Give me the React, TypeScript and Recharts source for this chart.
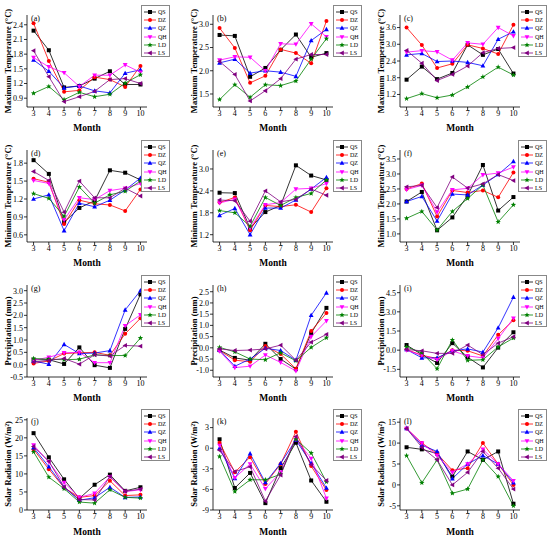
import { LineChart, Line, XAxis, YAxis } from 'recharts';

const months = [3, 4, 5, 6, 7, 8, 9, 10];
const seriesNames = ['QS', 'DZ', 'QZ', 'QH', 'LD', 'LS'];
const seriesColors = ['#000000', '#ff0000', '#0000ff', '#ff00ff', '#008000', '#800080'];
const seriesShapes = ['square', 'circle', 'up', 'down', 'star', 'left'];

// (a)-(c) maximum temperature change
const maxTempA = {
  QS: [2.28, 1.88, 1.12, 1.15, 1.3, 1.45, 1.18, 1.18],
  DZ: [2.43, 1.66, 1.03, 1.06, 1.33, 1.28, 1.13, 1.56],
  QZ: [1.68, 1.45, 1.11, 1.15, 1.05, 1.01, 1.41, 1.48],
  QH: [1.73, 1.54, 1.42, 1.14, 1.37, 1.37, 1.58, 1.43],
  LD: [1.0, 1.14, 0.87, 1.02, 0.93, 0.98, 1.21, 1.38],
  LS: [1.87, 1.34, 0.83, 0.93, 1.04, 1.28, 1.3, 1.2],
};
const maxTempB = {
  QS: [2.77, 2.75, 1.87, 2.06, 2.45, 2.78, 2.29, 2.38],
  DZ: [2.92, 2.49, 1.74, 1.89, 2.46, 2.38, 2.16, 3.07],
  QZ: [2.17, 2.25, 1.95, 2.0, 1.97, 1.88, 2.65, 2.89],
  QH: [2.23, 2.3, 2.29, 2.0, 2.58, 2.57, 3.01, 2.73],
  LD: [1.38, 1.7, 1.43, 1.7, 1.68, 1.78, 2.25, 2.69],
  LS: [2.2, 1.92, 1.35, 1.57, 1.83, 2.25, 2.35, 2.35],
};
const maxTempC = {
  QS: [1.73, 2.2, 1.75, 1.97, 2.98, 2.62, 2.83, 1.95],
  DZ: [3.6, 2.97, 2.15, 2.3, 2.98, 2.85, 2.65, 3.7],
  QZ: [2.62, 2.67, 2.38, 2.4, 2.35, 2.23, 3.18, 3.45],
  QH: [2.72, 2.77, 2.73, 2.43, 3.05, 3.0, 3.6, 3.3],
  LD: [1.05, 1.23, 1.08, 1.18, 1.47, 1.83, 2.18, 1.9],
  LS: [2.78, 2.32, 1.7, 1.92, 2.22, 2.7, 2.85, 2.88],
};

// (d)-(f) minimum temperature change
const minTempD = {
  QS: [1.85, 1.62, 0.81, 1.05, 1.17, 1.68, 1.64, 1.52],
  DZ: [1.54, 1.48, 0.78, 1.18, 1.12, 1.1, 1.0, 1.36],
  QZ: [1.2, 1.27, 0.67, 1.13, 1.07, 1.18, 1.35, 1.55],
  QH: [1.51, 1.46, 0.85, 1.22, 1.19, 1.34, 1.38, 1.46],
  LD: [1.29, 1.21, 0.91, 1.4, 1.13, 1.27, 1.33, 1.5],
  LS: [1.66, 1.51, 0.98, 1.5, 1.22, 1.22, 1.38, 1.25],
};
const minTempE = {
  QS: [2.35, 2.34, 1.38, 1.82, 2.0, 3.1, 2.82, 2.7],
  DZ: [2.08, 2.22, 1.32, 2.0, 1.97, 2.02, 1.82, 2.47],
  QZ: [1.73, 1.92, 1.2, 1.93, 1.93, 2.15, 2.45, 2.77],
  QH: [2.07, 2.17, 1.38, 2.02, 2.08, 2.45, 2.47, 2.6],
  LD: [1.86, 1.8, 1.43, 2.22, 2.0, 2.22, 2.33, 2.7],
  LS: [2.15, 2.13, 1.57, 2.4, 2.1, 2.17, 2.45, 2.28],
};
const minTempF = {
  QS: [2.08, 2.4, 1.12, 1.55, 2.28, 3.3, 1.78, 2.23],
  DZ: [2.5, 2.68, 1.58, 2.45, 2.38, 2.45, 2.22, 3.05],
  QZ: [2.08, 2.25, 1.43, 2.33, 2.3, 2.63, 2.98, 3.42],
  QH: [2.48, 2.62, 1.73, 2.47, 2.52, 2.97, 3.03, 3.23],
  LD: [1.52, 1.75, 1.13, 1.75, 2.18, 2.63, 1.4, 1.97],
  LS: [2.57, 2.62, 1.88, 2.9, 2.53, 2.67, 2.98, 2.78],
};

// (g)-(i) precipitation change
const precipG = {
  QS: [0.2, 0.2, 0.03, 0.7, -0.02, -0.13, 1.45, 2.85],
  DZ: [0.05, 0.15, 0.45, 0.48, 0.5, 0.38, 1.25, 1.88],
  QZ: [0.15, 0.02, 0.82, 0.45, 0.47, 0.57, 2.22, 3.0],
  QH: [0.18, 0.3, 0.48, 0.5, 0.08, 0.08, 1.58, 2.02],
  LD: [0.25, 0.22, 0.2, 0.22, 0.4, 0.37, 0.37, 1.08],
  LS: [0.1, 0.18, 0.25, 0.02, 0.4, 0.35, 0.78, 0.75],
};
const precipH = {
  QS: [-0.1, -0.45, -0.55, 0.18, -0.5, -0.95, 0.65, 1.78],
  DZ: [-0.12, -0.55, -0.62, 0.08, -0.28, -0.93, 0.75, 1.55],
  QZ: [-0.1, -0.82, -0.5, -0.02, -0.12, -0.55, 1.45, 2.45],
  QH: [-0.15, -0.88, -0.82, -0.32, -0.65, -1.03, 0.5, 1.2],
  LD: [0.02, -0.18, -0.5, -0.53, -0.22, -0.58, 0.02, 0.45],
  LS: [-0.05, -0.12, -0.1, -0.05, 0.12, -0.55, 0.25, 0.6],
};
const precipI = {
  QS: [0.4, -0.35, -1.0, 0.55, -0.55, -1.35, 0.2, 1.4],
  DZ: [0.05, -0.4, -0.65, 0.0, -0.05, -0.45, 1.2, 2.35],
  QZ: [0.05, -0.6, -0.6, -0.05, 0.1, -0.15, 1.75, 4.15],
  QH: [0.0, -0.4, -0.75, -0.05, -0.45, -0.6, 0.9, 2.5],
  LD: [0.25, -0.2, -1.45, 0.8, -0.8, -0.75, 0.25, 0.95],
  LS: [0.05, -0.05, -0.25, -0.25, 0.4, -0.35, 0.55, 1.05],
};

// (j)-(l) solar radiation change
const solarJ = {
  QS: [21.3, 14.6, 8.5, 3.2, 7.0, 9.8, 5.3, 6.3],
  DZ: [16.8, 11.3, 6.2, 3.5, 4.0, 8.1, 4.0, 4.2],
  QZ: [17.3, 12.0, 6.3, 2.7, 3.4, 6.3, 3.5, 3.6],
  QH: [18.0, 13.3, 7.6, 3.5, 4.6, 9.2, 5.1, 5.6],
  LD: [16.1, 9.1, 5.9, 2.2, 1.9, 5.6, 3.5, 3.3],
  LS: [17.6, 13.5, 6.4, 2.9, 2.8, 9.3, 5.2, 5.8],
};
const solarK = {
  QS: [1.3, -5.8, -3.6, -8.0, -2.9, 0.8, -4.7, -7.8],
  DZ: [0.8, -3.5, -1.3, -5.2, -2.3, 2.4, -2.6, -6.1],
  QZ: [0.0, -4.4, -0.8, -5.0, -2.2, 1.2, -2.2, -5.8],
  QH: [0.4, -4.3, -2.3, -5.9, -3.5, 1.3, -1.5, -7.3],
  LD: [-1.2, -6.3, -4.6, -4.6, -3.8, 1.3, -0.7, -4.9],
  LS: [-0.3, -3.4, -2.7, -7.7, -3.9, 1.7, -2.4, -4.7],
};
const solarL = {
  QS: [9.0, 8.5, 7.5, 2.0, 8.0, 6.0, 8.0, -4.5],
  DZ: [13.5, 10.0, 7.5, 3.5, 4.0, 10.0, 5.0, 0.0],
  QZ: [13.5, 9.5, 8.0, 1.5, 5.0, 7.0, 5.0, 0.5],
  QH: [13.5, 10.0, 7.0, 3.0, 5.0, 8.5, 5.0, 1.0],
  LD: [7.0, 0.5, 6.0, -2.0, -1.0, 6.0, 2.0, -5.0],
  LS: [13.5, 9.0, 6.0, 0.0, 3.0, 8.0, 4.0, -1.0],
};

const ticksA = [0.9, 1.2, 1.5, 1.8, 2.1, 2.4];
const ticksB = [1.5, 2.0, 2.5, 3.0];
const ticksC = [1.2, 1.8, 2.4, 3.0, 3.6];
const ticksD = [0.6, 0.9, 1.2, 1.5, 1.8];
const ticksE = [1.2, 1.8, 2.4, 3.0];
const ticksF = [1.0, 1.5, 2.0, 2.5, 3.0, 3.5];
const ticksG = [-0.5, 0.0, 0.5, 1.0, 1.5, 2.0, 2.5, 3.0];
const ticksH = [-1.0, -0.5, 0.0, 0.5, 1.0, 1.5, 2.0, 2.5];
const ticksI = [-1.5, 0.0, 1.5, 3.0, 4.5];
const ticksJ = [0, 5, 10, 15, 20, 25];
const ticksK = [-9, -6, -3, 0, 3];
const ticksL = [-5, 0, 5, 10, 15];

const rowLabels = [
  'Maximum Temperature (°C)',
  'Minimum Temperature (°C)',
  'Precipitation (mm)',
  'Solar Radiation (W/m²)',
];

const panels = [
  { letter: 'a', values: maxTempA, domain: [0.72, 2.6], ticks: ticksA, dec: 1 },
  { letter: 'b', values: maxTempB, domain: [1.22, 3.2], ticks: ticksB, dec: 1 },
  { letter: 'c', values: maxTempC, domain: [0.75, 4.05], ticks: ticksC, dec: 1 },
  { letter: 'd', values: minTempD, domain: [0.48, 2.02], ticks: ticksD, dec: 1 },
  { letter: 'e', values: minTempE, domain: [1.0, 3.52], ticks: ticksE, dec: 1 },
  { letter: 'f', values: minTempF, domain: [0.73, 3.8], ticks: ticksF, dec: 1 },
  { letter: 'g', values: precipG, domain: [-0.5, 3.23], ticks: ticksG, dec: 1 },
  { letter: 'h', values: precipH, domain: [-1.3, 2.8], ticks: ticksH, dec: 1 },
  { letter: 'i', values: precipI, domain: [-2.1, 5.1], ticks: ticksI, dec: 1 },
  { letter: 'j', values: solarJ, domain: [0, 25.5], ticks: ticksJ, dec: 0 },
  { letter: 'k', values: solarK, domain: [-9, 4.4], ticks: ticksK, dec: 0 },
  { letter: 'l', values: solarL, domain: [-6, 16], ticks: ticksL, dec: 0 },
];

const FONT = '"Liberation Serif", "Times New Roman", serif';
const colLeft = [0, 183, 366];
const rowTop = [0, 135, 270, 404];
const plotLeft = [27, 30, 34];
const legendLeft = [141, 150, 152];
const PANEL_W = 183;
const PANEL_H = 134;
const PLOT_W = 120;

function Marker({ shape, x, y, color }: { shape: string; x: number; y: number; color: string }) {
  const r = 2;
  if (shape === 'square') return <rect x={x - r} y={y - r} width={r * 2} height={r * 2} fill={color} />;
  if (shape === 'circle') return <circle cx={x} cy={y} r={r} fill={color} />;
  if (shape === 'up')
    return <polygon points={`${x},${y - r * 1.3} ${x + r * 1.2},${y + r * 0.9} ${x - r * 1.2},${y + r * 0.9}`} fill={color} />;
  if (shape === 'down')
    return <polygon points={`${x},${y + r * 1.3} ${x + r * 1.2},${y - r * 0.9} ${x - r * 1.2},${y - r * 0.9}`} fill={color} />;
  if (shape === 'left')
    return <polygon points={`${x - r * 1.3},${y} ${x + r * 0.9},${y - r * 1.2} ${x + r * 0.9},${y + r * 1.2}`} fill={color} />;
  // star
  const pts: string[] = [];
  for (let i = 0; i < 10; i++) {
    const a = (Math.PI / 5) * i - Math.PI / 2;
    const rr = i % 2 === 0 ? r * 1.4 : r * 0.6;
    pts.push(`${x + rr * Math.cos(a)},${y + rr * Math.sin(a)}`);
  }
  return <polygon points={pts.join(' ')} fill={color} />;
}

function LegendBox({ left }: { left: number }) {
  return (
    <div
      style={{
        position: 'absolute', left, top: 5, width: 29, height: 52,
        border: '0.8px solid #888', background: '#fff', boxSizing: 'border-box',
        paddingTop: 1.5,
      }}
    >
      {seriesNames.map((s, i) => (
        <div key={s} style={{ display: 'flex', alignItems: 'center', height: 8.3 }}>
          <svg width={16} height={8} style={{ flex: 'none' }}>
            <line x1={2} y1={4} x2={14} y2={4} stroke={seriesColors[i]} strokeWidth={0.8} />
            <Marker shape={seriesShapes[i]} x={8} y={4} color={seriesColors[i]} />
          </svg>
          <span style={{ fontFamily: FONT, fontSize: 6, lineHeight: '8px', color: '#000' }}>{s}</span>
        </div>
      ))}
    </div>
  );
}

function Panel({ idx }: { idx: number }) {
  const p = panels[idx];
  const row = Math.floor(idx / 3);
  const col = idx % 3;
  const left = plotLeft[col];
  const top = row === 3 ? 14 : 15;
  const data = months.map((m, i) => {
    const d: Record<string, number> = { month: m };
    seriesNames.forEach((s) => { d[s] = (p.values as Record<string, number[]>)[s][i]; });
    return d;
  });
  const axisLine = { stroke: '#000', strokeWidth: 0.8 };
  const tickStyle = { fontSize: 8, fontFamily: FONT, fill: '#000' };
  return (
    <div style={{ position: 'absolute', left: colLeft[col], top: rowTop[row], width: PANEL_W, height: PANEL_H }}>
      <LineChart
        width={PANEL_W}
        height={PANEL_H}
        data={data}
        margin={{ top, right: PANEL_W - left - PLOT_W, bottom: 0, left: 0 }}
        style={{ fontFamily: FONT }}
      >
        <XAxis
          dataKey="month"
          type="number"
          domain={[2.57, 10.43]}
          ticks={months}
          interval={0}
          allowDataOverflow
          height={PANEL_H - top - 92}
          tickSize={3}
          tickMargin={0}
          axisLine={axisLine}
          tickLine={axisLine}
          tick={tickStyle}
          label={{ value: 'Month', position: 'insideBottom', offset: 3, style: { fontSize: 9.5, fontWeight: 'bold', fontFamily: FONT, fill: '#000' } }}
        />
        <YAxis
          type="number"
          domain={p.domain}
          ticks={p.ticks}
          interval={0}
          allowDataOverflow
          width={left}
          tickSize={3}
          tickMargin={1}
          axisLine={axisLine}
          tickLine={axisLine}
          tick={tickStyle}
          tickFormatter={(v: number) => v.toFixed(p.dec)}
          label={{
            value: rowLabels[row], angle: -90, position: 'insideLeft', offset: left - 19,
            style: { textAnchor: 'middle', fontSize: 8.5, fontWeight: 'bold', fontFamily: FONT, fill: '#000' },
          }}
        />
        {seriesNames.map((s, i) => (
          <Line
            key={s}
            dataKey={s}
            stroke={seriesColors[i]}
            strokeWidth={0.8}
            isAnimationActive={false}
            dot={(dp: any) => (
              <Marker key={`${s}-${dp.index}`} shape={seriesShapes[i]} x={dp.cx} y={dp.cy} color={seriesColors[i]} />
            )}
          />
        ))}
      </LineChart>
      <span style={{ position: 'absolute', left: left + 4, top: top - 1, fontFamily: FONT, fontSize: 8, color: '#000' }}>
        ({p.letter})
      </span>
      <LegendBox left={legendLeft[col]} />
    </div>
  );
}

export default function App() {
  return (
    <div style={{ position: 'absolute', left: 0, top: 0, width: 550, height: 537, background: '#fff', fontFamily: FONT }}>
      {panels.map((p, i) => (
        <Panel key={p.letter} idx={i} />
      ))}
    </div>
  );
}
